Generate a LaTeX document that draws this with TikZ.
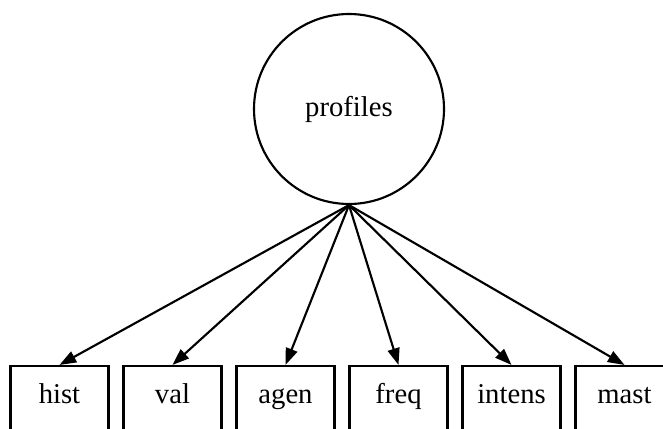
\documentclass[tikz,border=0pt]{standalone}
\usepackage{fontspec}
\setmainfont{Liberation Serif}
\usetikzlibrary{arrows.meta}
\begin{document}
\begin{tikzpicture}[x=0.75pt,y=-0.75pt,
  lat/.style={circle,draw,line width=1.6pt,minimum size=142.5pt,inner sep=0pt,font=\fontsize{21.5}{25}\selectfont},
  obs/.style={rectangle,draw,line width=1.6pt,minimum width=73.5pt,minimum height=51.75pt,inner sep=0pt,
    text height=0.68em,text depth=0.22em,font=\fontsize{21.5}{25}\selectfont},
  arr/.style={line width=1.6pt,-{Triangle[length=12.5pt,width=9pt]}}]
\clip (0,0) rectangle (663,428);
\useasboundingbox (0,0) rectangle (663,428);
\node[lat] (p) at (349,109) {profiles};
\node[obs] (hist) at (59.5,400.5) {hist};
\node[obs] (val) at (172.5,400.5) {val};
\node[obs] (agen) at (285.5,400.5) {agen};
\node[obs] (freq) at (398.5,400.5) {freq};
\node[obs] (intens) at (511.5,400.5) {intens};
\node[obs] (mast) at (624.5,400.5) {mast};
\foreach \n in {hist,val,agen,freq,intens,mast}
  \draw[arr] (p.south) -- (\n.north);
\end{tikzpicture}
\end{document}
